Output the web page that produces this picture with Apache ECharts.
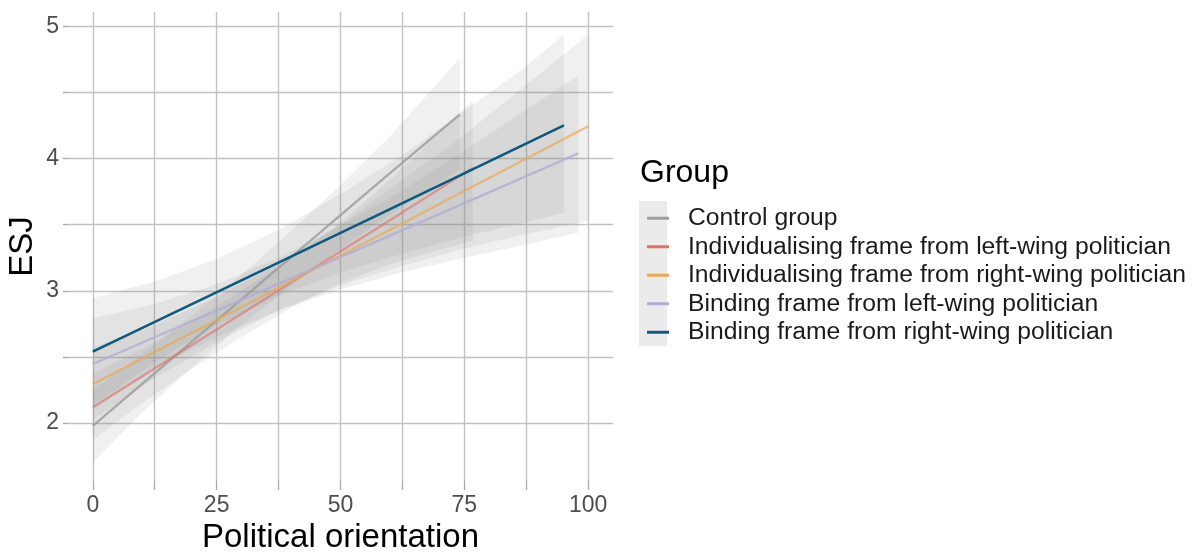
<!DOCTYPE html>
<html>
<head>
<meta charset="utf-8">
<script src="https://cdn.jsdelivr.net/npm/echarts@6/dist/echarts.min.js"></script>
<style>html,body{margin:0;padding:0;background:#fff;}#c{width:1197px;height:553px;}</style>
</head>
<body>
<div id="c"></div>
<script>
// ---- tick values ----
const xGridValues = [0, 12.5, 25, 37.5, 50, 62.5, 75, 87.5, 100];
const xLabelValues = [0, 25, 50, 75, 100];
const yGridValues = [2, 2.5, 3, 3.5, 4, 4.5, 5];
const yLabelValues = [2, 3, 4, 5];

// ---- groups ----
const groupNames = [
  'Control group',
  'Individualising frame from left-wing politician',
  'Individualising frame from right-wing politician',
  'Binding frame from left-wing politician',
  'Binding frame from right-wing politician'
];

// ---- fitted lines (x, ESJ) ----
const controlLineX = [0, 57.9, 74.1];
const controlLineY = [1.977, 3.824, 4.336];
const indLeftLineX = [0, 57.9, 76.7];
const indLeftLineY = [2.116, 3.484, 3.93];
const indRightLineX = [0, 57.9, 100];
const indRightLineY = [2.292, 3.42, 4.245];
const bindLeftLineX = [0, 57.9, 98];
const bindLeftLineY = [2.446, 3.383, 4.04];
const bindRightLineX = [0, 57.9, 95.1];
const bindRightLineY = [2.539, 3.58, 4.252];

// ---- confidence ribbons ----
const controlBandX = [0, 10, 20, 30, 40, 50, 60, 74.1];
const controlUpper = [2.25, 2.52, 2.81, 3.12, 3.45, 3.80, 4.17, 4.76];
const controlLower = [1.70, 2.08, 2.42, 2.74, 3.04, 3.32, 3.58, 3.92];
const indLeftBandX = [0, 10, 20, 30, 40, 50, 60, 76.7];
const indLeftUpper = [2.37, 2.56, 2.77, 3.00, 3.25, 3.52, 3.84, 4.44];
const indLeftLower = [1.87, 2.15, 2.41, 2.65, 2.87, 3.06, 3.20, 3.38];
const indRightBandX = [0, 12.5, 25, 37.5, 50, 62.5, 75, 87.5, 100];
const indRightUpper = [2.57, 2.74, 2.95, 3.20, 3.50, 3.84, 4.18, 4.56, 4.94];
const indRightLower = [2.02, 2.34, 2.61, 2.85, 3.04, 3.19, 3.32, 3.43, 3.53];
const bindLeftBandX = [0, 12.5, 25, 37.5, 50, 62.5, 75, 87.5, 98];
const bindLeftUpper = [2.79, 2.90, 3.05, 3.25, 3.49, 3.76, 4.06, 4.37, 4.63];
const bindLeftLower = [2.11, 2.41, 2.65, 2.85, 3.01, 3.14, 3.25, 3.35, 3.44];
const bindRightBandX = [0, 12.5, 25, 37.5, 50, 62.5, 75, 87.5, 95.1];
const bindRightUpper = [2.945, 3.07, 3.24, 3.46, 3.73, 4.03, 4.36, 4.70, 4.94];
const bindRightLower = [2.13, 2.46, 2.74, 2.96, 3.14, 3.28, 3.41, 3.52, 3.59];

const groupColors = ['#9e9e9e', '#df6f67', '#e8a94f', '#b1acd6', '#0d5a7d'];
const lineOpacity = [0.85, 0.6, 0.7, 0.8, 1];

const lines = [
  [controlLineX, controlLineY],
  [indLeftLineX, indLeftLineY],
  [indRightLineX, indRightLineY],
  [bindLeftLineX, bindLeftLineY],
  [bindRightLineX, bindRightLineY]
];
const bands = [
  [controlBandX, controlUpper, controlLower],
  [indLeftBandX, indLeftUpper, indLeftLower],
  [indRightBandX, indRightUpper, indRightLower],
  [bindLeftBandX, bindLeftUpper, bindLeftLower],
  [bindRightBandX, bindRightUpper, bindRightLower]
];

const FONT = '"Liberation Sans", Arial, sans-serif';

const series = [];
bands.forEach((b, k) => {
  const bx = b[0], up = b[1], lo = b[2];
  series.push({
    type: 'custom',
    coordinateSystem: 'cartesian2d',
    silent: true,
    z: 1,
    data: [[bx[0], lo[0]]],
    renderItem: function (params, api) {
      const pts = [];
      for (let i = 0; i < bx.length; i++) pts.push(api.coord([bx[i], up[i]]));
      for (let i = bx.length - 1; i >= 0; i--) pts.push(api.coord([bx[i], lo[i]]));
      return { type: 'polygon', shape: { points: pts }, style: { fill: 'rgba(140,140,140,0.13)' } };
    }
  });
});
lines.forEach((l, k) => {
  series.push({
    name: groupNames[k],
    type: 'line',
    z: 3 + k,
    showSymbol: false,
    symbol: 'none',
    silent: true,
    data: l[0].map((x, i) => [x, l[1][i]]),
    lineStyle: { color: groupColors[k], width: k === 4 ? 2.6 : 2.3, opacity: lineOpacity[k] },
    itemStyle: { color: groupColors[k] }
  });
});

const chart = echarts.init(document.getElementById('c'), null, { renderer: 'canvas' });
chart.setOption({
  animation: false,
  backgroundColor: '#ffffff',
  grid: { left: 68, right: 584, top: 12, bottom: 72, containLabel: false, outerBoundsMode: 'none' },
  xAxis: {
    type: 'value', min: -5, max: 105,
    name: 'Political orientation', nameLocation: 'middle', nameGap: 40,
    nameTextStyle: { fontFamily: FONT, fontSize: 33, color: '#000' },
    axisLine: { show: false, onZero: false },
    axisTick: { show: true, customValues: xGridValues, length: 9, lineStyle: { color: '#a8a8a8', width: 1.3 } },
    axisLabel: { customValues: xLabelValues, fontFamily: FONT, fontSize: 23, color: '#4d4d4d', margin: 13 },
    splitLine: { show: true, lineStyle: { color: '#c2c2c2', width: 1.4 } }
  },
  yAxis: {
    type: 'value', min: 1.56, max: 5.11,
    name: 'ESJ', nameLocation: 'middle', nameGap: 29, nameRotate: 90,
    nameTextStyle: { fontFamily: FONT, fontSize: 33, color: '#000' },
    axisLine: { show: false, onZero: false },
    axisTick: { show: true, customValues: yGridValues, length: 5, lineStyle: { color: '#a8a8a8', width: 1.3 } },
    axisLabel: { customValues: yLabelValues, fontFamily: FONT, fontSize: 23, color: '#4d4d4d', margin: 9 },
    splitLine: { show: true, lineStyle: { color: '#c2c2c2', width: 1.4 } }
  },
  legend: {
    orient: 'vertical', left: 642, top: 199, z: 5,
    itemWidth: 22, itemHeight: 3, itemGap: 0,
    icon: 'rect',
    selectedMode: false,
    data: groupNames.map((n, k) => ({ name: n, itemStyle: { color: groupColors[k], opacity: 1 } })),
    textStyle: { fontFamily: FONT, fontSize: 24.7, color: '#1a1a1a', lineHeight: 28.5, padding: [0, 0, 0, 14] }
  },
  graphic: [
    { type: 'rect', left: 639, top: 201, z: 0, shape: { width: 28, height: 145 }, style: { fill: '#ebebeb' } },
    { type: 'text', left: 640, top: 157, z: 1, style: { text: 'Group', font: '32px ' + FONT, fill: '#000' } }
  ],
  series: series
});
</script>
</body>
</html>
